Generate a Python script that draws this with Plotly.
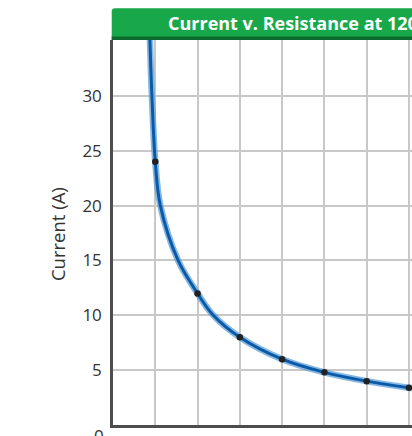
import plotly.graph_objects as go

# Measured data points (Resistance in ohms, Current in A)
resistance = [5, 10, 15, 20, 25, 30, 35]
current = [24, 12, 8, 6, 4.8, 4, 3.4]

# Points
curve_r = [4.33, 4.6, 5.0, 5.6, 7.7, 10.0, 11.86, 15, 20, 25, 30, 35, 35.6]
curve_i = [36.0, 30, 24, 20, 15, 12, 10, 8, 6, 4.8, 4, 3.4, 3.36]

y_ticks = [5, 10, 15, 20, 25, 30]
x_ticks = [0, 5, 10, 15, 20, 25, 30, 35]
x_tick_text = ["", "5", "10", "15", "20", "25", "30", "35"]

title_text = "Current v. Resistance at 120 V"
y_title = "Current (A)"

FONT = "Open Sans"

fig = go.Figure()
# soft halo of the curve
fig.add_trace(go.Scatter(x=curve_r, y=curve_i, mode="lines",
                         line=dict(color="rgba(95,160,220,0.75)", width=6.5, shape="spline", smoothing=1.0),
                         hoverinfo="skip", showlegend=False))
# core of the curve
fig.add_trace(go.Scatter(x=curve_r, y=curve_i, mode="lines",
                         line=dict(color="#0b5aa5", width=3, shape="spline", smoothing=1.0),
                         hoverinfo="skip", showlegend=False))
fig.add_trace(go.Scatter(x=resistance, y=current, mode="markers",
                         marker=dict(color="#222222", size=6.5),
                         showlegend=False))

fig.update_layout(
    width=412, height=436,
    margin=dict(l=113, r=0, t=40, b=11, autoexpand=False),
    paper_bgcolor="white", plot_bgcolor="white",
    font=dict(family=FONT, color="#333333"),
    xaxis=dict(range=[0, 35.36], tickvals=x_ticks, ticktext=x_tick_text,
               showgrid=True, gridcolor="#c8c8c8", gridwidth=1.5,
               showline=True, linecolor="#4d4d4d", linewidth=2.5,
               zeroline=False, ticks="", ticklabelstandoff=6, automargin=False,
               tickfont=dict(size=17, color="#333333", family=FONT)),
    yaxis=dict(range=[0, 35.1], tickvals=y_ticks,
               showgrid=True, gridcolor="#c8c8c8", gridwidth=1.5,
               showline=True, linecolor="#4d4d4d", linewidth=2.5,
               zeroline=False, ticks="", ticklabelstandoff=5, automargin=False,
               tickfont=dict(size=17, color="#333333", family=FONT)),
    shapes=[
        dict(type="path", xref="paper", yref="paper",
             path="M -0.0043,1.0 L -0.0043,1.0745 Q -0.0043,1.0823 0.006,1.0823 L 1.1,1.0823 L 1.1,1.0 Z",
             fillcolor="#18a84a", line=dict(width=0), layer="above"),
        dict(type="rect", xref="paper", yref="paper", x0=-0.0043, x1=1.1, y0=1.0, y1=1.009,
             fillcolor="#0c6a2e", line=dict(width=0), layer="above"),
    ],
    annotations=[
        dict(text="<b>" + title_text + "</b>", xref="paper", yref="paper",
             x=0.176, y=1.044, xanchor="left", yanchor="middle", showarrow=False,
             font=dict(family=FONT, size=18, color="white")),
        dict(text=y_title, xref="paper", yref="paper", x=-0.186, y=0.497,
             xanchor="center", yanchor="middle", textangle=-90, showarrow=False,
             font=dict(family=FONT, size=18.5, color="#333333")),
        dict(text="0", xref="paper", yref="paper", x=-0.023, y=-0.026,
             xanchor="right", yanchor="middle", showarrow=False,
             font=dict(family=FONT, size=17, color="#333333")),
    ],
)

fig.write_html("out.html")
